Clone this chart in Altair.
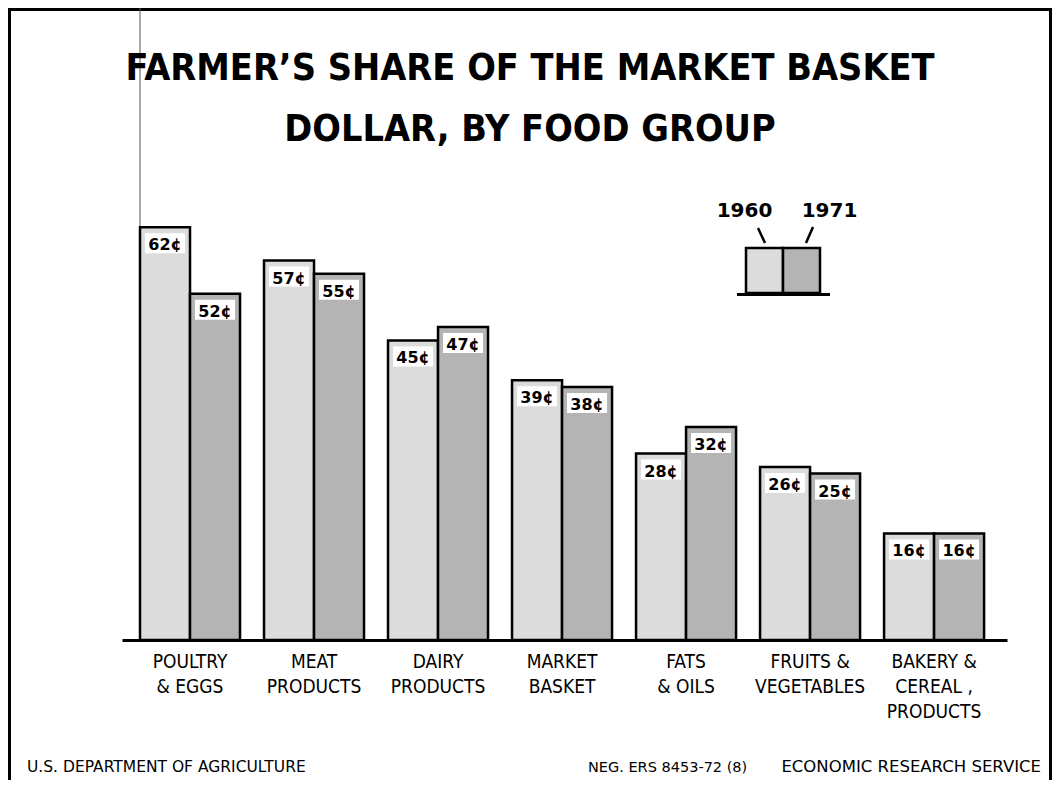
import altair as alt
import pandas as pd

# ---- data ----
categories = ["POULTRY|& EGGS", "MEAT|PRODUCTS", "DAIRY|PRODUCTS", "MARKET|BASKET",
              "FATS|& OILS", "FRUITS &|VEGETABLES", "BAKERY &|CEREAL ,|PRODUCTS"]
years = ["1960", "1971"]
share_1960 = [62, 57, 45, 39, 28, 26, 16]
share_1971 = [52, 55, 47, 38, 32, 25, 16]
title_lines = ["FARMER\u2019S SHARE OF THE MARKET BASKET", "DOLLAR, BY FOOD GROUP"]
footer_left = "U.S. DEPARTMENT OF AGRICULTURE"
footer_neg = "NEG. ERS 8453-72 (8)"
footer_right = "ECONOMIC RESEARCH SERVICE"
fills = ["#dcdcdc", "#b4b4b4"]

rows = []
for c, a, b in zip(categories, share_1960, share_1971):
    rows.append({"cat": c, "year": years[0], "v": a, "lab": f"{a}\u00a2"})
    rows.append({"cat": c, "year": years[1], "v": b, "lab": f"{b}\u00a2"})
df = pd.DataFrame(rows)
one = pd.DataFrame({"k": [0]})

NARROW = "DejaVu Sans Condensed, DejaVu Sans, sans-serif"
DJ = "DejaVu Sans, sans-serif"

x_enc = alt.X("cat:N", sort=categories,
              scale=alt.Scale(paddingInner=0.1935, paddingOuter=0.165, align=0.44),
              axis=alt.Axis(title=None, labelAngle=0, ticks=False, domainColor="black",
                            domainWidth=3, labelFont=NARROW, labelFontSize=19,
                            labelColor="black", labelLineHeight=25, labelPadding=12,
                            labelLimit=300, labelExpr="split(datum.label, '|')"))
xo_enc = alt.XOffset("year:N", scale=alt.Scale(domain=years, paddingInner=0, paddingOuter=0))
y_enc = alt.Y("v:Q", scale=alt.Scale(domain=[0, 70], nice=False, zero=True), axis=None)

base = alt.Chart(df)

bars = base.mark_bar(stroke="black", strokeWidth=2.5).encode(
    x=x_enc, xOffset=xo_enc, y=y_enc,
    fill=alt.Fill("year:N", scale=alt.Scale(domain=years, range=fills), legend=None),
)

boxes = base.mark_bar(fill="white", width=40, yOffset=6, y2Offset=26).encode(
    x=x_enc, xOffset=xo_enc, y=y_enc, y2="v:Q",
)

labels = base.mark_text(font=DJ, fontSize=16, fontWeight="bold", color="black",
                        baseline="alphabetic", align="center", dy=23).encode(
    x=x_enc, xOffset=xo_enc, y=y_enc, text="lab:N",
)

ann = alt.Chart(one)

border = ann.mark_rect(fillOpacity=0, stroke="black", strokeWidth=3).encode(
    x=alt.value(-112.5), x2=alt.value(928.5), y=alt.value(-164.5), y2=alt.value(640))

scan = ann.mark_rule(color="#555555", strokeWidth=1).encode(
    x=alt.value(18), y=alt.value(-166), y2=alt.value(52))

t1 = ann.mark_text(text=title_lines[0], font=NARROW, fontSize=37.5, fontWeight="bold",
                   align="center", baseline="alphabetic", color="black").encode(
    x=alt.value(408), y=alt.value(-94))
t2 = ann.mark_text(text=title_lines[1], font=NARROW, fontSize=37.5, fontWeight="bold",
                   align="center", baseline="alphabetic", color="black").encode(
    x=alt.value(408), y=alt.value(-33))

lg1 = ann.mark_text(text=years[0], font=DJ, fontSize=20, fontWeight="bold",
                    align="center", baseline="alphabetic", color="black").encode(
    x=alt.value(622.5), y=alt.value(43))
lg2 = ann.mark_text(text=years[1], font=DJ, fontSize=20, fontWeight="bold",
                    align="center", baseline="alphabetic", color="black").encode(
    x=alt.value(707.5), y=alt.value(43))
sl1 = ann.mark_rule(color="black", strokeWidth=2.5).encode(
    x=alt.value(636), y=alt.value(54), x2=alt.value(643), y2=alt.value(69))
sl2 = ann.mark_rule(color="black", strokeWidth=2.5).encode(
    x=alt.value(691), y=alt.value(53), x2=alt.value(684), y2=alt.value(69))
sw1 = ann.mark_rect(fill=fills[0], stroke="black", strokeWidth=2.5).encode(
    x=alt.value(624), x2=alt.value(661), y=alt.value(74), y2=alt.value(119))
sw2 = ann.mark_rect(fill=fills[1], stroke="black", strokeWidth=2.5).encode(
    x=alt.value(661), x2=alt.value(698), y=alt.value(74), y2=alt.value(119))
ul = ann.mark_rule(color="black", strokeWidth=3).encode(
    x=alt.value(615), x2=alt.value(708), y=alt.value(120.5))

f1 = ann.mark_text(text=footer_left, font=DJ, fontSize=15.5, align="left",
                   baseline="alphabetic", color="black").encode(
    x=alt.value(-95), y=alt.value(598))
f2 = ann.mark_text(text=footer_neg, font=DJ, fontSize=14.5, align="left",
                   baseline="alphabetic", color="black").encode(
    x=alt.value(466), y=alt.value(598))
f3 = ann.mark_text(text=footer_right, font=DJ, fontSize=16.5, align="right",
                   baseline="alphabetic", color="black").encode(
    x=alt.value(919), y=alt.value(598))

chart = alt.layer(
    border, scan, bars, boxes, labels, t1, t2, lg1, lg2, sl1, sl2, sw1, sw2, ul, f1, f2, f3
).properties(
    width=885, height=466,
    autosize=alt.AutoSizeParams(type="none"),
    padding={"left": 114, "top": 166, "right": 45, "bottom": 140},
    background="white",
).configure_view(stroke=None)

chart.save("out.html", embed_options={"renderer": "svg", "actions": False})
